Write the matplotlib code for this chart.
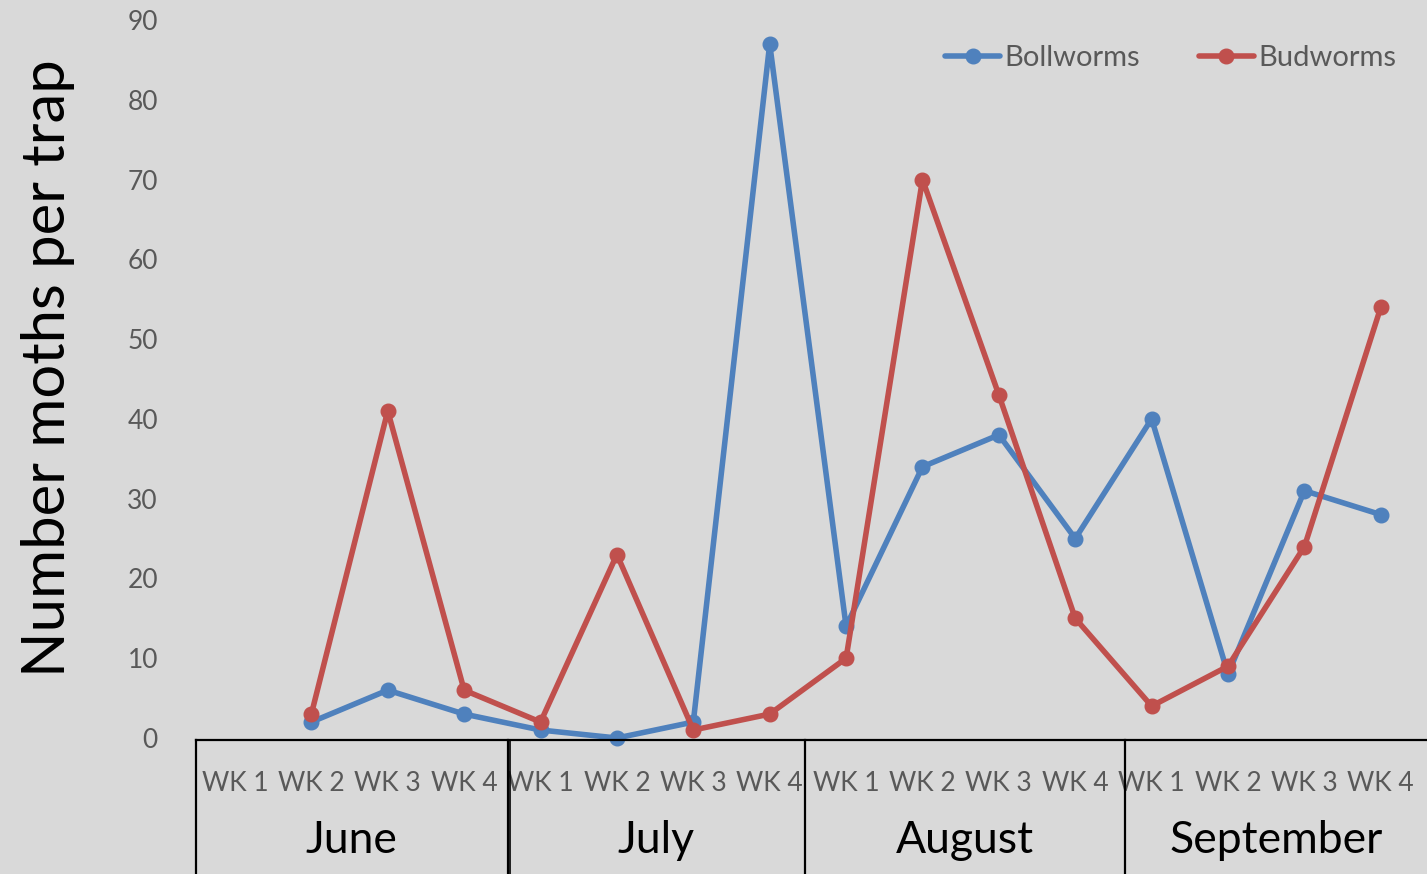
import numpy as np
import matplotlib
matplotlib.use("Agg")
import matplotlib.pyplot as plt
import matplotlib.transforms as mtransforms

plt.rcParams['font.family'] = ['Lato', 'DejaVu Sans']

# weekly trap counts, June through September (no June WK 1 reading)
months = ['June', 'July', 'August', 'September']
weeks = ['WK 1', 'WK 2', 'WK 3', 'WK 4']
bollworms = [np.nan, 2, 6, 3, 1, 0, 2, 87, 14, 34, 38, 25, 40, 8, 31, 28]
budworms = [np.nan, 3, 41, 6, 2, 23, 1, 3, 10, 70, 43, 15, 4, 9, 24, 54]
yticks = [0, 10, 20, 30, 40, 50, 60, 70, 80, 90]

# month box edges along the category axis
month_edges = [-0.51, 3.57, 7.46, 11.65, 15.7]

BG = '#d9d9d9'
BLUE = '#4f81bd'
RED = '#c0504d'
GREY = '#595959'

fig = plt.figure(figsize=(14.27, 8.74), dpi=100, facecolor=BG)
ax = fig.add_axes([0.1379, 0.1556, 0.8565, 0.8215])
ax.set_facecolor(BG)

x = np.arange(len(bollworms))
ax.plot(x, bollworms, color=BLUE, lw=4.0, marker='o', ms=10.5,
        label='Bollworms', clip_on=False, solid_capstyle='round')
ax.plot(x, budworms, color=RED, lw=4.0, marker='o', ms=10.5,
        label='Budworms', clip_on=False, solid_capstyle='round')

ax.set_xlim(-0.5, len(x) - 0.5)
ax.set_ylim(0, 90)
ax.set_yticks(yticks)
ax.tick_params(axis='y', length=0, labelsize=19, labelcolor=GREY, pad=28)
ax.set_xticks(x)
ax.set_xticklabels(weeks * len(months))
ax.tick_params(axis='x', length=0, labelsize=19, labelcolor=GREY, pad=24)
for s in ax.spines.values():
    s.set_visible(False)

ax.set_ylabel('Number moths per trap', fontsize=43, color='black')
ax.yaxis.set_label_coords(-0.1, 0.515)

# month grouping boxes under the axis
trans = mtransforms.blended_transform_factory(ax.transData, fig.transFigure)
box_top = 0.1533
ax.plot([month_edges[0], month_edges[-1]], [box_top, box_top], color='black',
        lw=1.6, transform=trans, clip_on=False)
for e in month_edges[:-1]:
    ax.plot([e, e], [0, box_top], color='black', lw=1.6,
            transform=trans, clip_on=False)
# double rule between June and July
ax.plot([month_edges[1] + 0.035] * 2, [0, box_top], color='black', lw=1.2,
        transform=trans, clip_on=False)
for i, m in enumerate(months):
    cx = (month_edges[i] + month_edges[i + 1]) / 2
    if i == len(months) - 1:
        cx = (month_edges[i] + 15.6) / 2
    ax.text(cx, 0.038, m, transform=trans, ha='center', va='center',
            fontsize=32, color='black')

ax.legend(loc='upper right', bbox_to_anchor=(0.997, 0.978),
          bbox_transform=fig.transFigure, ncol=2, frameon=False,
          fontsize=21, labelcolor=GREY, handlelength=1.9,
          columnspacing=2.0, handletextpad=0.15)

fig.savefig('out.png', dpi=100, facecolor=BG)
